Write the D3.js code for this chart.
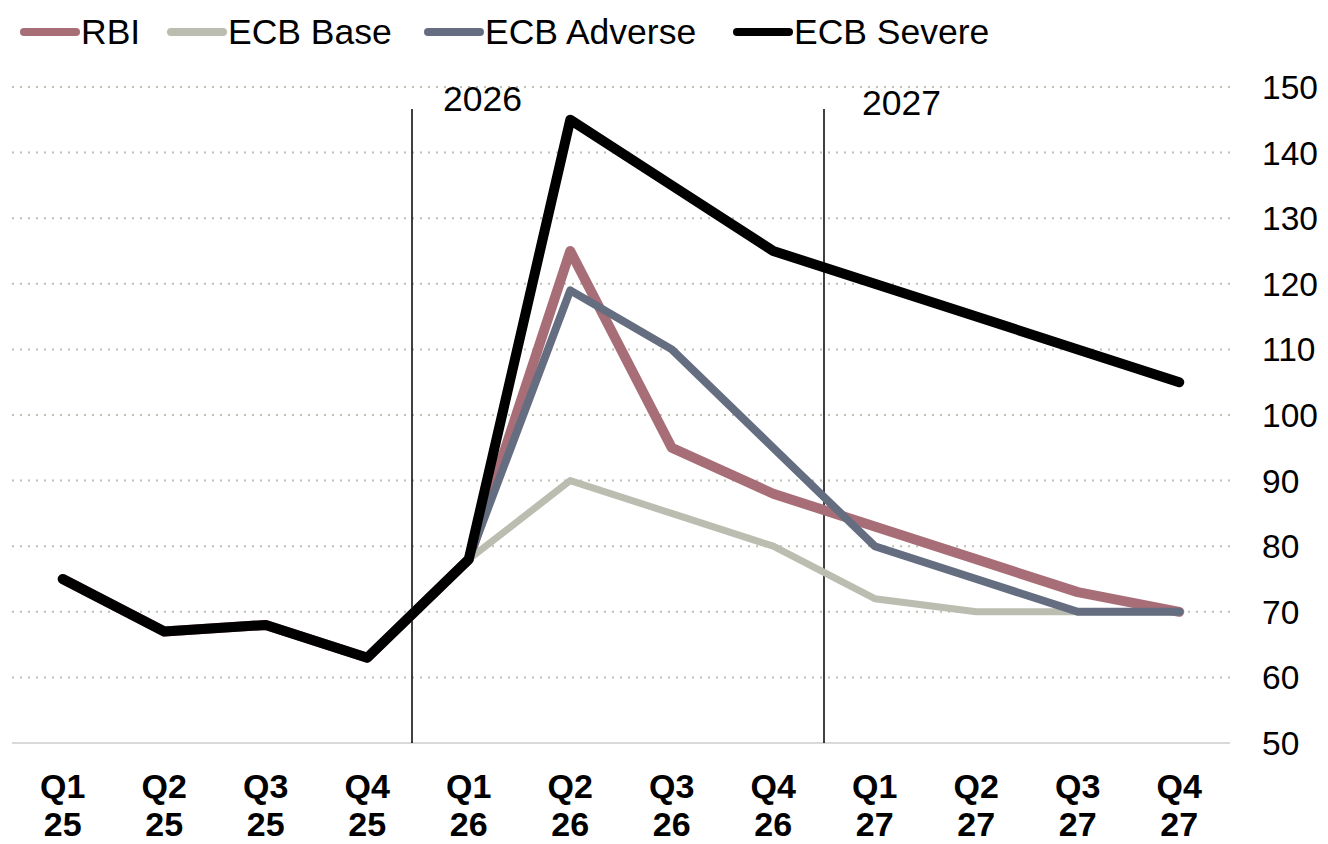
<!DOCTYPE html>
<html>
<head>
<meta charset="utf-8">
<script src="https://cdn.jsdelivr.net/npm/d3@7"></script>
<style>
  body { margin: 0; background: #fff; }
  svg { display: block; font-family: "Liberation Sans", Arial, sans-serif; }
</style>
</head>
<body>
<div id="chartwrap"></div>
<script>
const WIDTH = 1328;
const HEIGHT = 844;

const quarters = ['Q1', 'Q2', 'Q3', 'Q4', 'Q1', 'Q2', 'Q3', 'Q4', 'Q1', 'Q2', 'Q3', 'Q4'];
const years = ['25', '25', '25', '25', '26', '26', '26', '26', '27', '27', '27', '27'];
const yTicks = [50, 60, 70, 80, 90, 100, 110, 120, 130, 140, 150];

const seriesNames = ['RBI', 'ECB Base', 'ECB Adverse', 'ECB Severe'];
const rbi = [75, 67, 68, 63, 78, 125, 95, 88, 83, 78, 73, 70];
const ecbBase = [75, 67, 68, 63, 78, 90, 85, 80, 72, 70, 70, 70];
const ecbAdverse = [75, 67, 68, 63, 78, 119, 110, 95, 80, 75, 70, 70];
const ecbSevere = [75, 67, 68, 63, 78, 145, 135, 125, 120, 115, 110, 105];

const dividerLabels = ['2026', '2027'];
const dividerAt = [4, 8];

const colors = ['#a86e78', '#bbbdb0', '#656e80', '#000000'];
const widths = [10, 7, 8, 10];

const chart = { left: 12, right: 1230, top: 87, bottom: 743 };

const keys = quarters.map((q, i) => i);
const series = [rbi, ecbBase, ecbAdverse, ecbSevere];

const x = d3.scaleBand()
  .domain(keys)
  .range([chart.left, chart.right]);

const y = d3.scaleLinear()
  .domain([50, 150])
  .range([chart.bottom, chart.top]);

const svg = d3.select('#chartwrap')
  .append('svg')
  .attr('width', WIDTH)
  .attr('height', HEIGHT);

// grid
svg.append('g')
  .selectAll('line')
  .data(yTicks)
  .enter()
  .append('line')
  .attr('x1', chart.left)
  .attr('x2', chart.right)
  .attr('y1', d => y(d))
  .attr('y2', d => y(d))
  .attr('stroke', d => d === 50 ? '#d9d9d9' : '#bfbfb4')
  .attr('stroke-width', 2)
  .attr('stroke-dasharray', d => d === 50 ? null : '2,6');

// y labels on the right
svg.append('g')
  .selectAll('text')
  .data(yTicks)
  .enter()
  .append('text')
  .attr('x', 1262)
  .attr('y', d => y(d))
  .attr('dy', '0.36em')
  .attr('font-size', 33.5)
  .attr('fill', '#000')
  .text(d => d);

// year dividers
dividerAt.forEach((k, i) => {
  const xd = x(k) - (i === 0 ? 6 : 0);
  svg.append('line')
    .attr('x1', xd).attr('x2', xd)
    .attr('y1', 109).attr('y2', chart.bottom)
    .attr('stroke', '#000')
    .attr('stroke-width', 1.5);
  svg.append('text')
    .attr('x', xd + (i === 0 ? 31 : 38))
    .attr('y', i === 0 ? 111 : 115)
    .attr('font-size', 35.5)
    .text(dividerLabels[i]);
});

// x labels
const xl = svg.append('g')
  .selectAll('text')
  .data(keys)
  .enter()
  .append('text')
  .attr('text-anchor', 'middle')
  .attr('font-size', 34)
  .attr('font-weight', 'bold');

xl.append('tspan')
  .attr('x', d => x(d) + x.bandwidth() / 2)
  .attr('y', 798)
  .text(d => quarters[d]);

xl.append('tspan')
  .attr('x', d => x(d) + x.bandwidth() / 2)
  .attr('y', 836)
  .text(d => years[d]);

// lines
const line = d3.line()
  .x((d, i) => x(i) + x.bandwidth() / 2)
  .y(d => y(d))
  .curve(d3.curveLinear);

svg.append('g')
  .selectAll('path')
  .data(series)
  .enter()
  .append('path')
  .attr('d', d => line(d))
  .attr('fill', 'none')
  .attr('stroke', (d, i) => colors[i])
  .attr('stroke-width', (d, i) => widths[i])
  .attr('stroke-linejoin', 'round')
  .attr('stroke-linecap', 'round');

// legend
const legendX = [20, 167, 424, 733];
const lg = svg.append('g')
  .selectAll('g')
  .data(seriesNames)
  .enter()
  .append('g')
  .attr('transform', (d, i) => `translate(${legendX[i]},30)`);

lg.append('line')
  .attr('x1', 4).attr('x2', 56)
  .attr('y1', 2).attr('y2', 2)
  .attr('stroke', (d, i) => colors[i])
  .attr('stroke-width', 8)
  .attr('stroke-linecap', 'round');

lg.append('text')
  .attr('x', 61)
  .attr('y', 14)
  .attr('font-size', 35.5)
  .text(d => d);
</script>
</body>
</html>
